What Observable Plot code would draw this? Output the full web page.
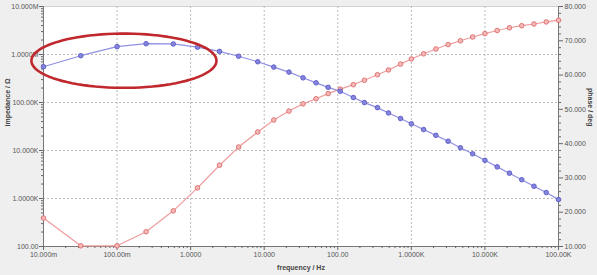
<!DOCTYPE html>
<html>
<head>
<meta charset="utf-8">
<script src="https://cdn.jsdelivr.net/npm/d3@7"></script>
<script src="https://cdn.jsdelivr.net/npm/@observablehq/plot@0.6"></script>
<style>
  html, body { margin: 0; padding: 0; background: #efefef; }
  #chart { width: 597px; height: 275px; }
</style>
</head>
<body>
<div id="chart"></div>
<script>
// ---- data ----
const frequency = [0.01, 0.0321, 0.1, 0.248, 0.581, 1.24, 2.47, 4.49, 8.17, 13.5, 21.7, 33.7, 50.7, 74, 108, 163, 230, 346, 489, 713,
  1000, 1468, 2154, 3162, 4642, 6813, 10000, 14678, 21544, 31623, 46416, 68129, 100000];
const impedance = [556e3, 944e3, 1.456e6, 1.68e6, 1.66e6, 1.42e6, 1.16e6, 920e3, 706e3, 547e3, 430e3, 327e3, 257e3, 207e3, 171e3, 127e3,
  99.6e3, 78.2e3, 60.6e3, 46.4e3, 36.0e3, 27.3e3, 20.7e3, 15.6e3, 11.4e3, 8.53e3, 6.24e3, 4.56e3, 3.37e3, 2.46e3, 1.80e3, 1.33e3, 948];
const phase = [18.3, 10.2, 10.2, 14.3, 20.4, 27.1, 33.7, 39.0, 43.4, 46.9, 49.5, 51.6, 53.1, 54.6, 55.9, 57.2, 58.5, 60.1, 61.5, 63.2,
  64.7, 66.2, 67.6, 68.9, 70.0, 71.1, 72.1, 73.0, 73.8, 74.4, 74.9, 75.5, 76.0];

const xTicks = [0.01, 0.1, 1, 10, 100, 1000, 10000, 100000];
const xTickLabels = ["10.000m", "100.00m", "1.0000", "10.000", "100.00", "1.0000K", "10.000K", "100.00K"];
const yTicks = [100, 1000, 10000, 100000, 1e6, 1e7];
const yTickLabels = ["100.00", "1.0000K", "10.000K", "100.00K", "1.0000M", "10.000M"];
const phaseTicks = [10, 20, 30, 40, 50, 60, 70, 80];
const phaseTickLabels = ["10.000", "20.000", "30.000", "40.000", "50.000", "60.000", "70.000", "80.000"];

// highlight ellipse (annotation) in log units: centre frequency, centre impedance, radii in decades
const ellipseCenterF = 0.124, ellipseCenterZ = 742e3, ellipseRadF = 1.258, ellipseRadZ = 0.565;

// ---- helpers ----
const phaseMin = 10, phaseMax = 80, zMinLog = 2, zMaxLog = 7;
const phaseToY = p => Math.pow(10, zMinLog + (p - phaseMin) / (phaseMax - phaseMin) * (zMaxLog - zMinLog));

const imp = frequency.map((f, i) => ({f, z: impedance[i]}));
const ph = frequency.map((f, i) => ({f, y: phaseToY(phase[i])}));

const xLabel = new Map(xTicks.map((v, i) => [v, xTickLabels[i]]));
const yLabel = new Map(yTicks.map((v, i) => [v, yTickLabels[i]]));
const phaseLabels = phaseTicks.map((p, i) => ({y: phaseToY(p), text: phaseTickLabels[i]}));

const minorX = [];
for (let e = -2; e < 5; e++) for (let k = 2; k <= 9; k++) minorX.push(k * Math.pow(10, e));
const minorY = [];
for (let e = 2; e < 7; e++) for (let k = 2; k <= 9; k++) minorY.push(k * Math.pow(10, e));
const minorPhase = [];
for (let p = 12; p < 80; p += 2) if (p % 10) minorPhase.push(phaseToY(p));

const ell = d3.range(0, 361, 4).map(a => {
  const t = a * Math.PI / 180;
  return {
    f: Math.pow(10, Math.log10(ellipseCenterF) + ellipseRadF * Math.cos(t)),
    z: Math.pow(10, Math.log10(ellipseCenterZ) + ellipseRadZ * Math.sin(t))
  };
});

const font = "Liberation Sans, Arial, sans-serif";
const tickColor = "#666";

const chart = Plot.plot({
  width: 597,
  height: 275,
  marginLeft: 43,
  marginRight: 39,
  marginTop: 6,
  marginBottom: 29,
  style: {background: "#efefef", fontFamily: font, fontSize: "7px", color: "#555"},
  x: {type: "log", domain: [0.01, 100000]},
  y: {type: "log", domain: [100, 1e7]},
  marks: [
    Plot.frame({fill: "white", stroke: "#d0d0d0"}),
    Plot.gridX(xTicks.slice(1, -1), {stroke: "#bbb", strokeOpacity: 1, strokeDasharray: "2,2"}),
    Plot.gridY(yTicks.slice(1, -1), {stroke: "#bbb", strokeOpacity: 1, strokeDasharray: "2,2"}),
    // axis lines
    Plot.ruleX([0.01], {stroke: "#777"}),
    Plot.ruleX([100000], {stroke: "#777"}),
    Plot.ruleY([100], {stroke: "#777"}),
    // bottom axis
    Plot.axisX(xTicks, {tickFormat: d => xLabel.get(d), tickSize: 4, tickPadding: 2, stroke: tickColor, fill: "#555", label: null}),
    Plot.axisX(minorX, {text: null, tickSize: 2, stroke: tickColor, label: null}),
    // left axis
    Plot.axisY(yTicks, {tickFormat: d => yLabel.get(d), tickSize: 4, tickPadding: 1, stroke: tickColor, fill: "#555", label: null}),
    Plot.axisY(minorY, {text: null, tickSize: 2, stroke: tickColor, label: null}),
    // right axis (phase)
    Plot.axisY(phaseLabels.map(d => d.y), {anchor: "right", text: null, tickSize: 4, stroke: tickColor, label: null}),
    Plot.axisY(minorPhase, {anchor: "right", text: null, tickSize: 2, stroke: tickColor, label: null}),
    Plot.text(phaseLabels, {y: "y", text: "text", frameAnchor: "right", dx: 6, textAnchor: "start", fill: "#555", fontSize: 7}),
    // axis titles
    Plot.text(["frequency / Hz"], {frameAnchor: "bottom", dy: 23, fontWeight: "bold", fill: "#444", fontSize: 7}),
    Plot.text(["impedance / Ω"], {frameAnchor: "left", dx: -36, rotate: -90, fontWeight: "bold", fill: "#444", fontSize: 7}),
    Plot.text(["phase / deg"], {frameAnchor: "right", dx: 32, rotate: 90, fontWeight: "bold", fill: "#444", fontSize: 7}),
    // phase series
    Plot.line(ph, {x: "f", y: "y", stroke: "#ef9c9c", strokeWidth: 1.2}),
    Plot.dot(ph, {x: "f", y: "y", r: 2.3, fill: "#f6b9b9", stroke: "#dc6a6a", strokeWidth: 0.9}),
    // impedance series
    Plot.line(imp, {x: "f", y: "z", stroke: "#9090e4", strokeWidth: 1.2}),
    Plot.dot(imp, {x: "f", y: "z", r: 2.3, fill: "#8585de", stroke: "#5a5ac4", strokeWidth: 0.9}),
    // highlight ellipse
    Plot.line(ell, {x: "f", y: "z", stroke: "#c0282d", strokeWidth: 2.6, curve: "linear"})
  ]
});
document.getElementById("chart").appendChild(chart);
</script>
</body>
</html>
